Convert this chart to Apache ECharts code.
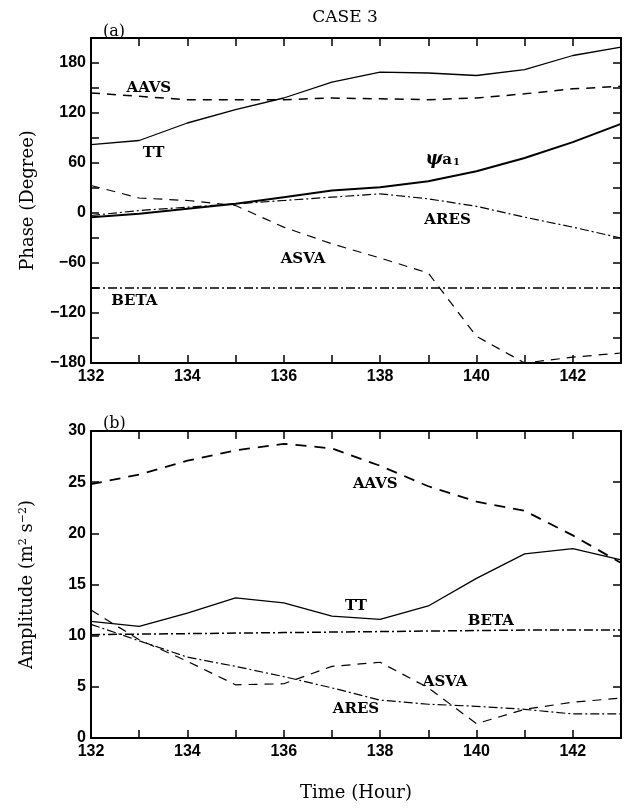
<!DOCTYPE html>
<html><head><meta charset="utf-8">
<script src="https://cdn.jsdelivr.net/npm/echarts@6/dist/echarts.min.js"></script>
<style>html,body{margin:0;padding:0;background:#fff}#c{width:625px;height:809px}</style>
</head><body><div id="c"></div>
<script>
const hours = [132,133,134,135,136,137,138,139,140,141,142,143];
// Panel (a): phase (degree)
const ttPhase   = [82,87,108,124,138,157,169,168,165,172,189,199];
const psiPhase  = [-5,-1,5,11,19,27,31,38,50,66,85,107];
const aavsPhase = [144,140,136,136,136,138,137,136,138,143,149,152];
const aresPhase = [-3,3,7,11,15,19,23,17,8,-5,-17,-30];
const asvaPhase = [33,18,15,9,-17,-37,-54,-72,-148,-180,-173,-168];
const betaPhase = [-90,-90,-90,-90,-90,-90,-90,-90,-90,-90,-90,-90];
// Panel (b): amplitude (m2 s-2)
const aavsAmp = [24.8,25.75,27.1,28.1,28.75,28.3,26.6,24.6,23.1,22.2,19.8,17.1];
const ttAmp   = [11.4,10.9,12.2,13.7,13.2,11.9,11.6,12.9,15.6,18.0,18.5,17.4];
const betaAmp = [10.1,10.15,10.2,10.25,10.3,10.35,10.4,10.45,10.5,10.55,10.55,10.55];
const asvaAmp = [12.5,9.6,7.5,5.2,5.3,7.0,7.4,4.9,1.4,2.8,3.5,3.9];
const aresAmp = [11.1,9.5,7.9,7.0,6.0,4.9,3.7,3.3,3.1,2.8,2.35,2.35];
// Curve annotations: [hour, value, text]
const labelsA = [[133.2,150,'AAVS'],[133.3,72,'TT'],[139.3,64,'PSI'],[139.4,-8,'ARES'],[136.4,-55,'ASVA'],[132.9,-106,'BETA']];
const labelsB = [[137.9,24.8,'AAVS'],[137.5,12.9,'TT'],[140.3,11.4,'BETA'],[139.35,5.5,'ASVA'],[137.5,2.8,'ARES']];

const pair = arr => hours.map((h,i)=>[h,arr[i]]);
const serif = 'DejaVu Serif';
const sans = 'Liberation Sans';
const minus = v => String(v).replace('-','\u2212');

function xAx(grid, pos, labels, name){
  return {type:'value', gridIndex:grid, position:pos, min:132, max:143, interval:1,
    axisLine:{onZero:false, lineStyle:{color:'#000', width:2}},
    axisTick:{inside:true, length:8, lineStyle:{color:'#000', width:1.5}},
    splitLine:{show:false},
    axisLabel:{show:labels, color:'#000', fontSize:16, fontWeight:'bold', fontFamily:sans, margin:6,
      formatter:v=> (v%2===0 ? String(v) : '')},
    name: name||'', nameLocation:'middle', nameGap:46,
    nameTextStyle:{fontFamily:serif, fontSize:18, color:'#000'}};
}
function yAx(grid, pos, labels, min, max, interval, lab, name, nameRich){
  return {type:'value', gridIndex:grid, position:pos, min:min, max:max, interval:interval,
    axisLine:{onZero:false, lineStyle:{color:'#000', width:2}},
    axisTick:{inside:true, length:8, lineStyle:{color:'#000', width:1.5}},
    splitLine:{show:false},
    axisLabel:{show:labels, color:'#000', fontSize:16, fontWeight:'bold', fontFamily:sans, margin:5, formatter:lab},
    name:name||'', nameLocation:'middle', nameRotate:90, nameGap:54,
    nameTextStyle:{fontFamily:serif, fontSize:18, color:'#000', rich:nameRich||{}}};
}
const labA = v => (v%60===0 && v<=180) ? minus(v) : '';
const labB = v => String(v);

function line(name, data, xi, yi, type, width){
  return {name:name, type:'line', xAxisIndex:xi, yAxisIndex:yi, data:pair(data),
    symbol:'none', silent:true, animation:false,
    lineStyle:{color:'#000', width:width, type:type}};
}
const dash = [9,7];
const dashdot = [9,3,2,3];

function annot(list, xi, yi){
  return {type:'scatter', xAxisIndex:xi, yAxisIndex:yi, symbolSize:0, silent:true, animation:false,
    itemStyle:{opacity:1, color:'#000'},
    data:list.map(l=>({value:[l[0],l[1]], name:l[2]})),
    label:{show:true, position:'inside', color:'#000', opacity:1, fontFamily:serif, fontSize:15, fontWeight:'bold',
      formatter:p=> p.name==='PSI' ? '{psi|\u03c8}{a|a}{s|1}' : p.name,
      rich:{psi:{fontFamily:serif, fontStyle:'italic', fontSize:18, fontWeight:'bold', color:'#000'},
            a:{fontFamily:serif, fontSize:15, fontWeight:'bold', color:'#000'},
            s:{fontFamily:serif, fontSize:10, color:'#000', padding:[6,0,0,1]}}}};
}

const chart = echarts.init(document.getElementById('c'), null, {renderer:'canvas'});
chart.setOption({
  backgroundColor:'#fff',
  animation:false,
  title:[
    {text:'CASE 3', left:340, top:4, textAlign:'center', textStyle:{fontFamily:serif, fontSize:17, fontWeight:'normal', color:'#000'}},
    {text:'(a)', left:98, top:19, textStyle:{fontFamily:serif, fontSize:16, fontWeight:'normal', color:'#000'}},
    {text:'(b)', left:98, top:411, textStyle:{fontFamily:serif, fontSize:16, fontWeight:'normal', color:'#000'}}
  ],
  grid:[
    {left:91, right:4, top:38, height:325},
    {left:91, right:4, top:431, height:307}
  ],
  xAxis:[
    xAx(0,'bottom',true), xAx(0,'top',false),
    xAx(1,'bottom',true,'Time (Hour)'), xAx(1,'top',false)
  ],
  yAxis:[
    yAx(0,'left',true,-180,210,30,labA,'Phase (Degree)'),
    yAx(0,'right',false,-180,210,30,labA),
    yAx(1,'left',true,0,30,5,labB,'Amplitude (m{sup|2} s{sup|\u22122})',
        {sup:{fontFamily:serif, fontSize:11, color:'#000', padding:[0,0,8,0]}}),
    yAx(1,'right',false,0,30,5,labB)
  ],
  series:[
    line('TT', ttPhase, 0, 0, 'solid', 1.3),
    line('psi', psiPhase, 0, 0, 'solid', 2),
    line('AAVS', aavsPhase, 0, 0, dash, 1.5),
    line('ARES', aresPhase, 0, 0, dashdot, 1.2),
    line('ASVA', asvaPhase, 0, 0, dash, 1.2),
    line('BETA', betaPhase, 0, 0, dashdot, 1.5),
    annot(labelsA, 0, 0),
    line('AAVS b', aavsAmp, 2, 2, [11,8], 1.8),
    line('TT b', ttAmp, 2, 2, 'solid', 1.3),
    line('BETA b', betaAmp, 2, 2, dashdot, 1.5),
    line('ASVA b', asvaAmp, 2, 2, dash, 1.2),
    line('ARES b', aresAmp, 2, 2, dashdot, 1.2),
    annot(labelsB, 2, 2)
  ]
});
</script>
</body></html>
